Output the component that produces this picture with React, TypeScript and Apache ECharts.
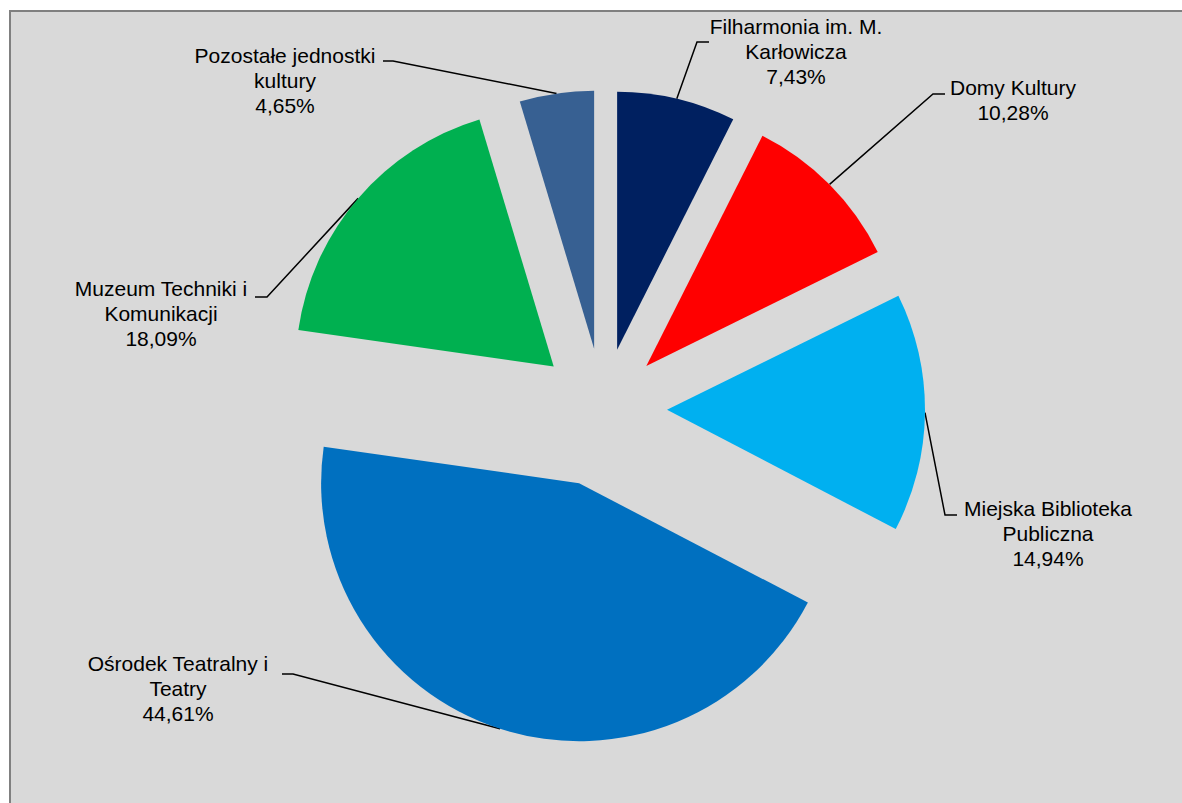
import React, { useEffect, useRef } from 'react';
import * as echarts from 'echarts';

// ---- data ----
const categories = [
  'Filharmonia im. M.\nKarłowicza',
  'Domy Kultury',
  'Miejska Biblioteka\nPubliczna',
  'Ośrodek Teatralny i\nTeatry',
  'Muzeum Techniki i\nKomunikacji',
  'Pozostałe jednostki\nkultury',
];
const shares = [7.43, 10.28, 14.94, 44.61, 18.09, 4.65];

// ---- styles / layout ----
const colors = ['#002060', '#ff0000', '#00b0f0', '#0070c0', '#00b050', '#376092'];
const explode = [61, 61, 64, 78, 65, 61];
const pieCenter = [603, 409];
const pieRadius = 258;
const labelBox: number[][] = [
  [796, 14],
  [1013, 75],
  [1048, 496],
  [178, 651],
  [161, 276],
  [285, 43],
];
const leader: number[][][] = [
  [[697, 42], [709, 42]],
  [[933, 94], [945, 94]],
  [[945, 515], [957, 515]],
  [[293, 674], [282, 674]],
  [[267, 297], [255, 297]],
  [[393, 61], [383, 61]],
];

const fmt = (v: number) => v.toFixed(2).replace('.', ',') + '%';

export default function App() {
  const ref = useRef<HTMLDivElement>(null);
  useEffect(() => {
    if (!ref.current) return;
    const chart = echarts.init(ref.current, null, { renderer: 'svg' });
    const total = shares.reduce((a, b) => a + b, 0);
    let cum = 0;
    const series = shares.map((v, i) => {
      const mid = ((cum + v / 2) / total) * 2 * Math.PI;
      cum += v;
      const c = [
        pieCenter[0] + explode[i] * Math.sin(mid),
        pieCenter[1] - explode[i] * Math.cos(mid),
      ];
      return {
        type: 'pie',
        silent: true,
        center: c,
        radius: [0, pieRadius],
        startAngle: 90,
        clockwise: true,
        avoidLabelOverlap: false,
        emphasis: { disabled: true },
        data: categories.map((name, j) => {
          if (j === i) {
            return {
              name,
              value: shares[j],
              itemStyle: { color: colors[j], opacity: 1 },
              label: { show: true },
              labelLine: { show: true },
            };
          }
          return {
            name,
            value: shares[j],
            itemStyle: { color: colors[j], opacity: 0 },
            label: { show: false },
            labelLine: { show: false },
          };
        }),
        label: {
          position: 'outside',
          formatter: (p: any) => `${p.name}\n${fmt(p.value)}`,
          color: '#000',
          fontFamily: '"Liberation Sans", Arial, sans-serif',
          fontSize: 21,
          lineHeight: 25,
          align: 'center',
        },
        labelLine: {
          show: true,
          length: 20,
          length2: 12,
          lineStyle: { color: '#000', width: 1.5 },
        },
        labelLayout: (params: any) => {
          if (params.dataIndex !== i) return {};
          const pts = params.labelLinePoints;
          const start = pts && pts[0] ? pts[0] : leader[i][0];
          return {
            x: labelBox[i][0],
            y: labelBox[i][1],
            align: 'center',
            verticalAlign: 'top',
            labelLinePoints: [start, leader[i][0], leader[i][1]],
          };
        },
      };
    });
    chart.setOption({
      animation: false,
      backgroundColor: 'transparent',
      series,
    });
    return () => chart.dispose();
  }, []);

  return (
    <div style={{ position: 'fixed', left: 0, top: 0, width: 1182, height: 803, background: '#fff', overflow: 'hidden' }}>
      <div
        style={{
          position: 'absolute',
          left: 9,
          top: 10,
          width: 1200,
          height: 820,
          background: '#d9d9d9',
          borderLeft: '2px solid #808080',
          borderTop: '2px solid #808080',
        }}
      />
      <div ref={ref} style={{ position: 'absolute', left: 0, top: 0, width: 1182, height: 803 }} />
    </div>
  );
}
